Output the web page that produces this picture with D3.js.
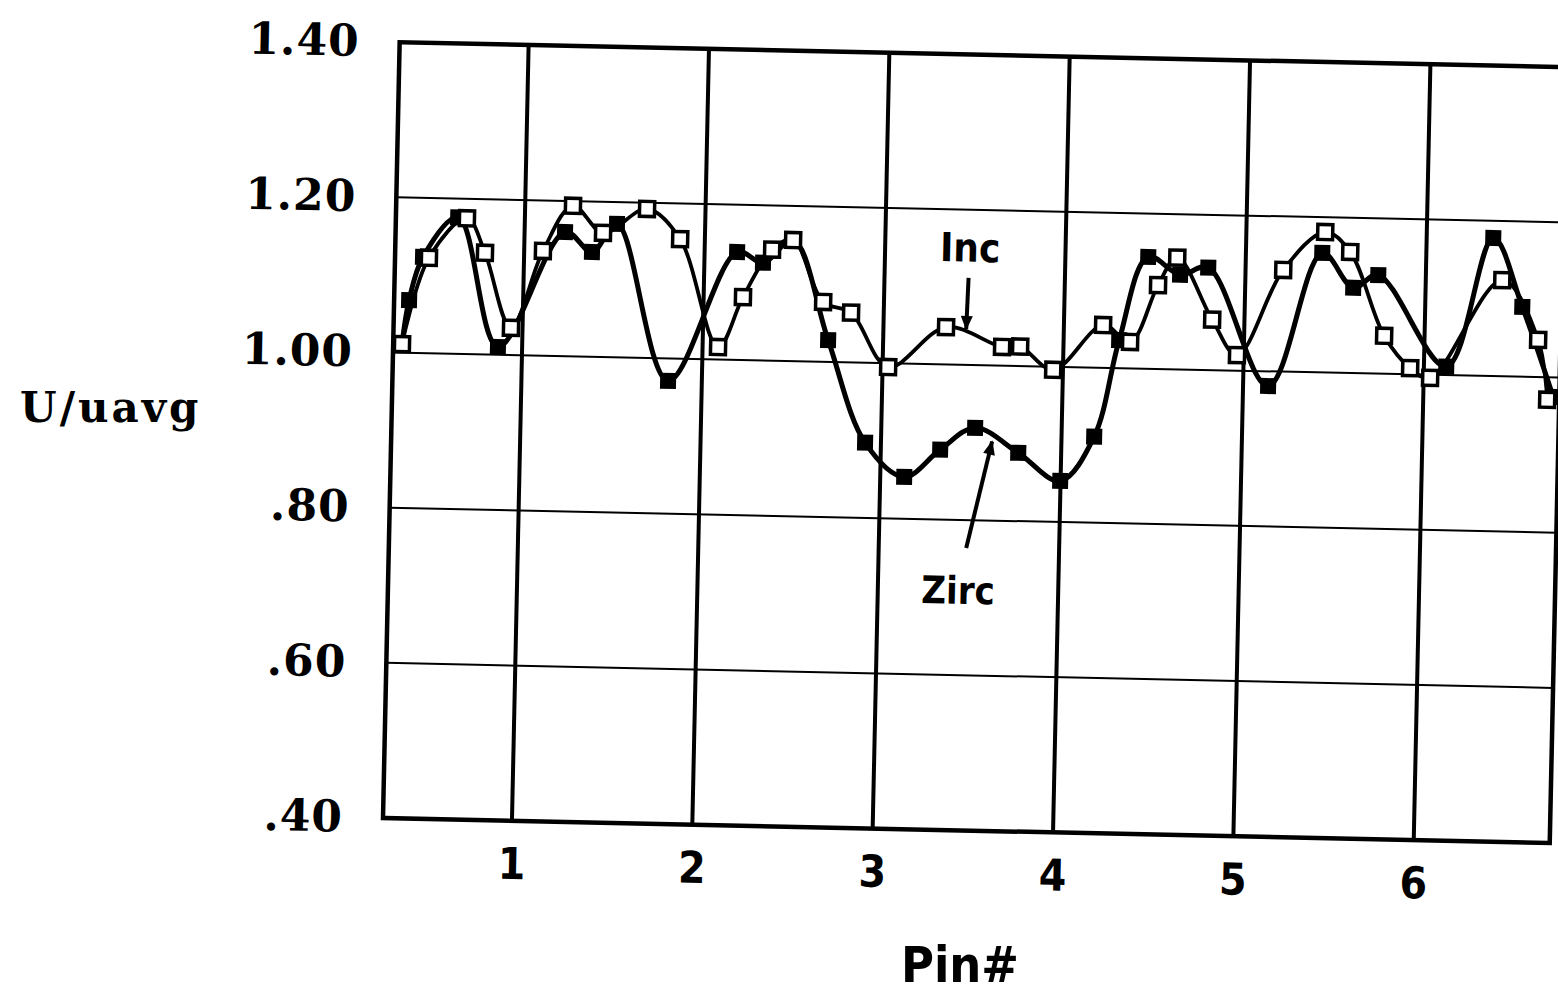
<!DOCTYPE html>
<html>
<head>
<meta charset="utf-8">
<script src="https://cdn.jsdelivr.net/npm/d3@7"></script>
<style>
  body { margin: 0; background: #fff; }
</style>
</head>
<body>
<div id="chart"></div>
<script>
// axis ticks
const pinTicks = [1, 2, 3, 4, 5, 6];
const yTicks = [0.4, 0.6, 0.8, 1.0, 1.2, 1.4];
const yTickLabels = [".40", ".60", ".80", "1.00", "1.20", "1.40"];

// Inc (open squares)
const incPin = [0.334, 0.473, 0.679, 0.783, 0.936, 1.104, 1.265, 1.435, 1.676, 1.863,
                2.086, 2.218, 2.374, 2.489, 2.663, 2.819, 3.031, 3.347, 3.660, 3.760,
                3.946, 4.217, 4.369, 4.517, 4.620, 4.821, 4.963, 5.209, 5.437, 5.578,
                5.776, 5.924, 6.036, 6.424, 6.630, 6.687];
const incVal = [1.011, 1.123, 1.175, 1.131, 1.035, 1.135, 1.194, 1.160, 1.192, 1.154,
                1.016, 1.081, 1.143, 1.156, 1.077, 1.064, 0.995, 1.048, 1.024, 1.025,
                0.996, 1.055, 1.034, 1.108, 1.144, 1.065, 1.020, 1.131, 1.181, 1.156,
                1.049, 1.008, 0.996, 1.124, 1.048, 0.971];

// Zirc (filled squares)
const zircPin = [0.334, 0.368, 0.440, 0.630, 0.866, 1.224, 1.376, 1.511, 1.813, 2.180,
                 2.325, 2.489, 2.695, 2.912, 3.133, 3.329, 3.520, 3.762, 3.998, 4.181,
                 4.308, 4.459, 4.638, 4.793, 5.139, 5.423, 5.599, 5.736, 6.124, 6.369,
                 6.538, 6.720];
const zircVal = [1.011, 1.068, 1.124, 1.176, 1.010, 1.160, 1.135, 1.172, 0.971, 1.139,
                 1.126, 1.156, 1.028, 0.897, 0.854, 0.890, 0.919, 0.888, 0.853, 0.911,
                 1.036, 1.144, 1.122, 1.132, 0.981, 1.154, 1.110, 1.127, 1.011, 1.178,
                 1.090, 0.975];

const inc = incPin.map((p, i) => ({ pin: p, val: incVal[i] }));
const zirc = zircPin.map((p, i) => ({ pin: p, val: zircVal[i] }));

const width = 1558, height = 998;
const plotW = 1167, plotH = 776;
const tilt = 1.23; // the scanned page sits a little crooked

const svg = d3.select("#chart").append("svg")
  .attr("width", width)
  .attr("height", height);

const defs = svg.append("defs");
defs.append("clipPath").attr("id", "plotClip")
  .append("rect").attr("x", 0).attr("y", 0).attr("width", plotW).attr("height", plotH);
defs.append("marker")
  .attr("id", "head")
  .attr("viewBox", "0 -5 12 10")
  .attr("refX", 11).attr("refY", 0)
  .attr("markerWidth", 4).attr("markerHeight", 3)
  .attr("orient", "auto")
  .append("path").attr("d", "M0,-5L12,0L0,5Z").attr("fill", "#000");

const g = svg.append("g")
  .attr("transform", "translate(383,818) rotate(" + tilt + ") translate(0," + (-plotH) + ")");

const x = d3.scaleLinear().domain([0.285, 6.754]).range([0, plotW]);
const y = d3.scaleLinear().domain([0.4, 1.4]).range([plotH, 0]);

// horizontal grid
g.append("g").selectAll("line")
  .data(yTicks.filter(d => d > 0.4 && d < 1.4))
  .enter().append("line")
  .attr("x1", 0).attr("x2", plotW)
  .attr("y1", d => y(d)).attr("y2", d => y(d))
  .attr("stroke", "#000").attr("stroke-width", 2);

// vertical grid
g.append("g").selectAll("line")
  .data(pinTicks)
  .enter().append("line")
  .attr("x1", d => x(d)).attr("x2", d => x(d))
  .attr("y1", 0).attr("y2", plotH)
  .attr("stroke", "#000").attr("stroke-width", 4);

// frame
g.append("rect")
  .attr("x", 0).attr("y", 0).attr("width", plotW).attr("height", plotH)
  .attr("fill", "none").attr("stroke", "#000").attr("stroke-width", 4.5);

// axes
const yAxis = g.append("g")
  .call(d3.axisLeft(y).tickValues(yTicks).tickFormat((d, i) => yTickLabels[i]).tickSize(0).tickPadding(40));
yAxis.select(".domain").remove();
yAxis.selectAll("text")
  .attr("font-family", "DejaVu Serif, serif")
  .attr("font-weight", "bold")
  .attr("font-size", 44)
  .attr("letter-spacing", 1)
  .attr("fill", "#000");

const xAxis = g.append("g")
  .attr("transform", "translate(0," + plotH + ")")
  .call(d3.axisBottom(x).tickValues(pinTicks).tickFormat(d3.format("d")).tickSize(0).tickPadding(27));
xAxis.select(".domain").remove();
xAxis.selectAll("text")
  .attr("font-family", "DejaVu Sans Condensed, DejaVu Sans, sans-serif")
  .attr("font-stretch", "condensed")
  .attr("font-weight", "bold")
  .attr("font-size", 44)
  .attr("fill", "#000");

// curves
const curve = d3.line()
  .x(d => x(d.pin))
  .y(d => y(d.val))
  .curve(d3.curveCatmullRom.alpha(0.5));

const lines = g.append("g").attr("clip-path", "url(#plotClip)");
lines.append("path").datum(zirc)
  .attr("d", curve).attr("fill", "none").attr("stroke", "#000").attr("stroke-width", 5);
lines.append("path").datum(inc)
  .attr("d", curve).attr("fill", "none").attr("stroke", "#000").attr("stroke-width", 3.8);

lines.append("g").selectAll("rect")
  .data(zirc)
  .enter().append("rect")
  .attr("x", d => x(d.pin) - 8).attr("y", d => y(d.val) - 8)
  .attr("width", 16).attr("height", 16)
  .attr("fill", "#000");

lines.append("g").selectAll("rect")
  .data(inc)
  .enter().append("rect")
  .attr("x", d => x(d.pin) - 7.5).attr("y", d => y(d.val) - 7.5)
  .attr("width", 15).attr("height", 15)
  .attr("fill", "#fff").attr("stroke", "#000").attr("stroke-width", 3.5);

// annotations
g.append("text")
  .attr("x", x(3.471)).attr("y", y(1.151) + 14)
  .attr("text-anchor", "middle")
  .attr("font-family", "DejaVu Sans Condensed, DejaVu Sans, sans-serif")
  .attr("font-stretch", "condensed")
  .attr("font-weight", "bold").attr("font-size", 40)
  .text("Inc");
g.append("line")
  .attr("x1", x(3.466)).attr("y1", y(1.112))
  .attr("x2", x(3.459)).attr("y2", y(1.046))
  .attr("stroke", "#000").attr("stroke-width", 4).attr("marker-end", "url(#head)");

g.append("text")
  .attr("x", x(3.445)).attr("y", y(0.710) + 14)
  .attr("text-anchor", "middle")
  .attr("font-family", "DejaVu Sans Condensed, DejaVu Sans, sans-serif")
  .attr("font-stretch", "condensed")
  .attr("font-weight", "bold").attr("font-size", 38)
  .text("Zirc");
g.append("line")
  .attr("x1", x(3.485)).attr("y1", y(0.764))
  .attr("x2", x(3.616)).attr("y2", y(0.902))
  .attr("stroke", "#000").attr("stroke-width", 4).attr("marker-end", "url(#head)");

// axis titles
svg.append("text")
  .attr("x", 20).attr("y", 422)
  .attr("font-family", "DejaVu Serif, serif")
  .attr("font-weight", "bold").attr("font-size", 42)
  .attr("letter-spacing", 3)
  .text("U/uavg");

svg.append("text")
  .attr("x", 960).attr("y", 982)
  .attr("text-anchor", "middle")
  .attr("font-family", "DejaVu Sans Condensed, DejaVu Sans, sans-serif")
  .attr("font-stretch", "condensed")
  .attr("font-weight", "bold").attr("font-size", 50)
  .text("Pin#");
</script>
</body>
</html>
